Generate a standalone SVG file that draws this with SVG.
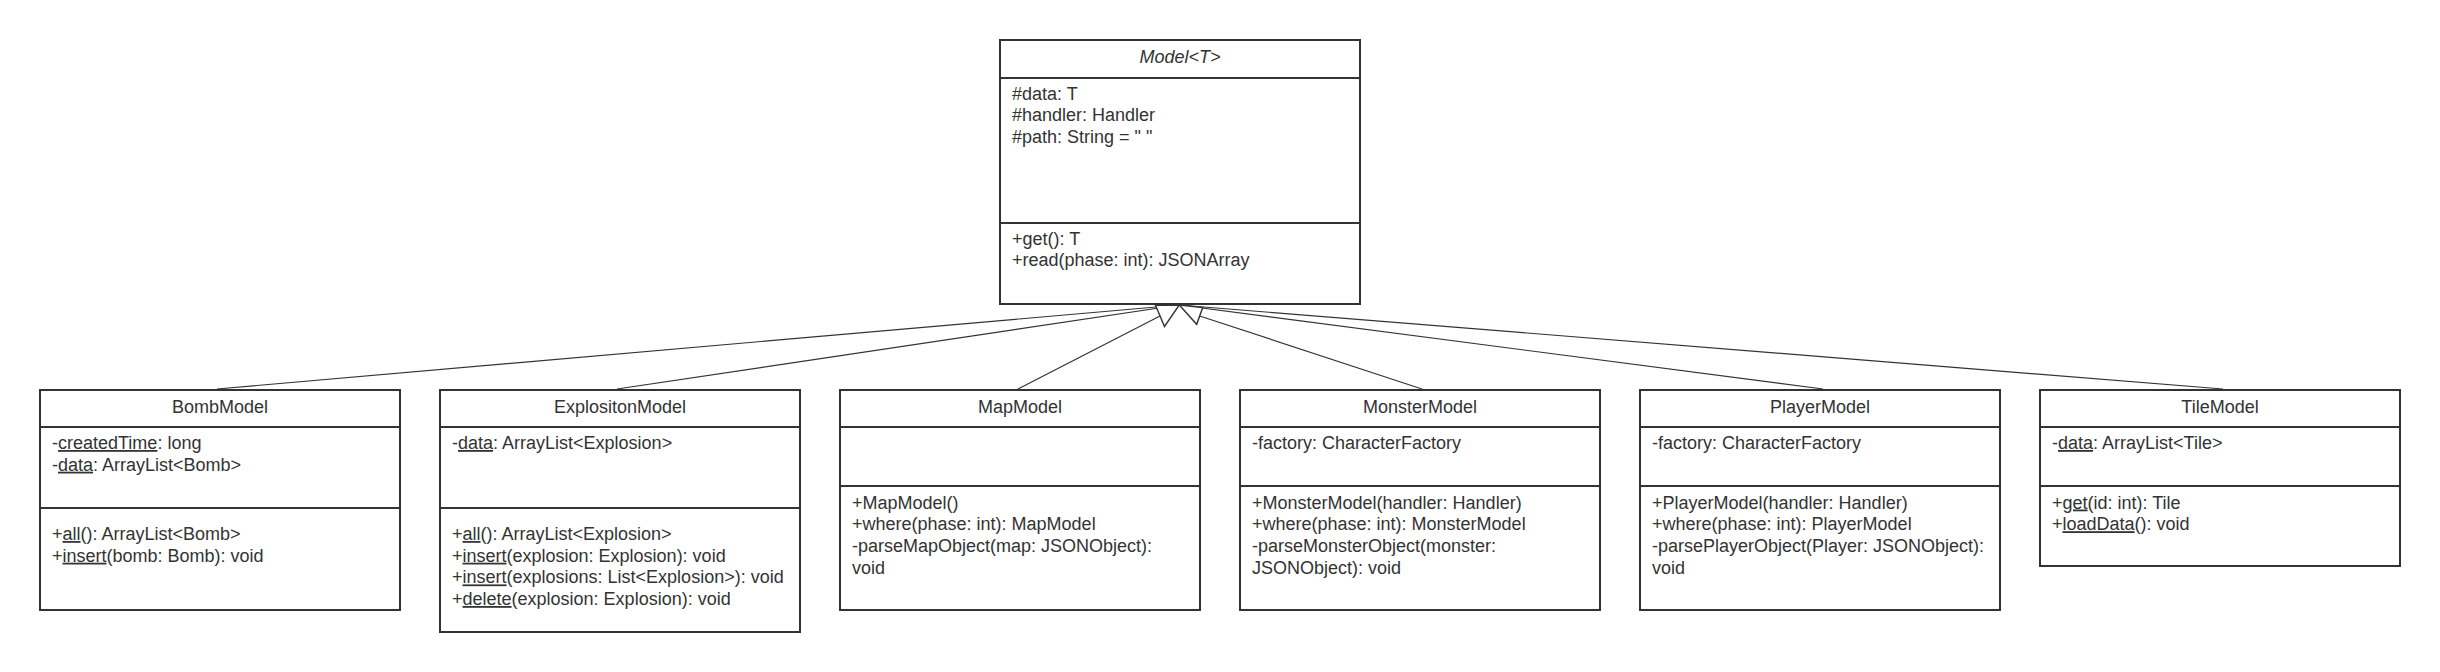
<svg xmlns="http://www.w3.org/2000/svg" width="2440" height="672" viewBox="0 0 2440 672">
<style>
.box{fill:#ffffff;stroke:#333333;stroke-width:2}
.sep{stroke:#333333;stroke-width:2}
.t{font-family:"Liberation Sans",Arial,sans-serif;font-size:18px;fill:#333333}
.title{text-anchor:middle}
.it{font-style:italic}
.u{text-decoration:underline}
.conn{stroke:#333333;stroke-width:1.2;fill:none}
.head{fill:#ffffff;stroke:#333333;stroke-width:1.4;stroke-linejoin:miter}
</style>
<rect width="2440" height="672" fill="#ffffff"/>
<g id="connectors">
<line class="conn" x1="217" y1="389" x2="1179" y2="305"/>
<line class="conn" x1="617" y1="389" x2="1179" y2="305"/>
<line class="conn" x1="1018" y1="389" x2="1160" y2="316"/>
<line class="conn" x1="1422" y1="389" x2="1199.7" y2="316"/>
<line class="conn" x1="1823" y1="389" x2="1179" y2="305"/>
<line class="conn" x1="2223" y1="389" x2="1179" y2="305"/>
<polygon class="head" points="1155.5,305.3 1164.5,326.5 1179.3,305"/>
<polygon class="head" points="1179.3,305 1196.7,324.3 1202.7,307.5"/>
</g>
<g id="Model">
<rect class="box" x="1000" y="40" width="360" height="264"/>
<line class="sep" x1="1000" y1="78" x2="1360" y2="78"/>
<line class="sep" x1="1000" y1="223" x2="1360" y2="223"/>
<text class="t title it" x="1180" y="62.5">Model&lt;T&gt;</text>
<text class="t" x="1012" y="99.5">#data: T</text>
<text class="t" x="1012" y="121.2">#handler: Handler</text>
<text class="t" x="1012" y="143">#path: String = " "</text>
<text class="t" x="1012" y="244.5">+get(): T</text>
<text class="t" x="1012" y="266.2">+read(phase: int): JSONArray</text>
</g>
<g id="BombModel">
<rect class="box" x="40" y="390" width="360" height="220"/>
<line class="sep" x1="40" y1="427" x2="400" y2="427"/>
<line class="sep" x1="40" y1="508" x2="400" y2="508"/>
<text class="t title" x="220" y="412.5">BombModel</text>
<text class="t" x="52" y="449">-<tspan class="u">createdTime</tspan>: long</text>
<text class="t" x="52" y="470.7">-<tspan class="u">data</tspan>: ArrayList&lt;Bomb&gt;</text>
<text class="t" x="52" y="540">+<tspan class="u">all</tspan>(): ArrayList&lt;Bomb&gt;</text>
<text class="t" x="52" y="561.7">+<tspan class="u">insert</tspan>(bomb: Bomb): void</text>
</g>
<g id="ExplositonModel">
<rect class="box" x="440" y="390" width="360" height="242"/>
<line class="sep" x1="440" y1="427" x2="800" y2="427"/>
<line class="sep" x1="440" y1="508" x2="800" y2="508"/>
<text class="t title" x="620" y="412.5">ExplositonModel</text>
<text class="t" x="452" y="449">-<tspan class="u">data</tspan>: ArrayList&lt;Explosion&gt;</text>
<text class="t" x="452" y="540">+<tspan class="u">all</tspan>(): ArrayList&lt;Explosion&gt;</text>
<text class="t" x="452" y="561.7">+<tspan class="u">insert</tspan>(explosion: Explosion): void</text>
<text class="t" x="452" y="583.4">+<tspan class="u">insert</tspan>(explosions: List&lt;Explosion&gt;): void</text>
<text class="t" x="452" y="605">+<tspan class="u">delete</tspan>(explosion: Explosion): void</text>
</g>
<g id="MapModel">
<rect class="box" x="840" y="390" width="360" height="220"/>
<line class="sep" x1="840" y1="427" x2="1200" y2="427"/>
<line class="sep" x1="840" y1="486" x2="1200" y2="486"/>
<text class="t title" x="1020" y="412.5">MapModel</text>
<text class="t" x="852" y="508.5">+MapModel()</text>
<text class="t" x="852" y="530.2">+where(phase: int): MapModel</text>
<text class="t" x="852" y="551.9">-parseMapObject(map: JSONObject):</text>
<text class="t" x="852" y="573.6">void</text>
</g>
<g id="MonsterModel">
<rect class="box" x="1240" y="390" width="360" height="220"/>
<line class="sep" x1="1240" y1="427" x2="1600" y2="427"/>
<line class="sep" x1="1240" y1="486" x2="1600" y2="486"/>
<text class="t title" x="1420" y="412.5">MonsterModel</text>
<text class="t" x="1252" y="449">-factory: CharacterFactory</text>
<text class="t" x="1252" y="508.5">+MonsterModel(handler: Handler)</text>
<text class="t" x="1252" y="530.2">+where(phase: int): MonsterModel</text>
<text class="t" x="1252" y="551.9">-parseMonsterObject(monster:</text>
<text class="t" x="1252" y="573.6">JSONObject): void</text>
</g>
<g id="PlayerModel">
<rect class="box" x="1640" y="390" width="360" height="220"/>
<line class="sep" x1="1640" y1="427" x2="2000" y2="427"/>
<line class="sep" x1="1640" y1="486" x2="2000" y2="486"/>
<text class="t title" x="1820" y="412.5">PlayerModel</text>
<text class="t" x="1652" y="449">-factory: CharacterFactory</text>
<text class="t" x="1652" y="508.5">+PlayerModel(handler: Handler)</text>
<text class="t" x="1652" y="530.2">+where(phase: int): PlayerModel</text>
<text class="t" x="1652" y="551.9">-parsePlayerObject(Player: JSONObject):</text>
<text class="t" x="1652" y="573.6">void</text>
</g>
<g id="TileModel">
<rect class="box" x="2040" y="390" width="360" height="176"/>
<line class="sep" x1="2040" y1="427" x2="2400" y2="427"/>
<line class="sep" x1="2040" y1="486" x2="2400" y2="486"/>
<text class="t title" x="2220" y="412.5">TileModel</text>
<text class="t" x="2052" y="449">-<tspan class="u">data</tspan>: ArrayList&lt;Tile&gt;</text>
<text class="t" x="2052" y="508.5">+<tspan class="u">get</tspan>(id: int): Tile</text>
<text class="t" x="2052" y="530.2">+<tspan class="u">loadData</tspan>(): void</text>
</g>
</svg>
